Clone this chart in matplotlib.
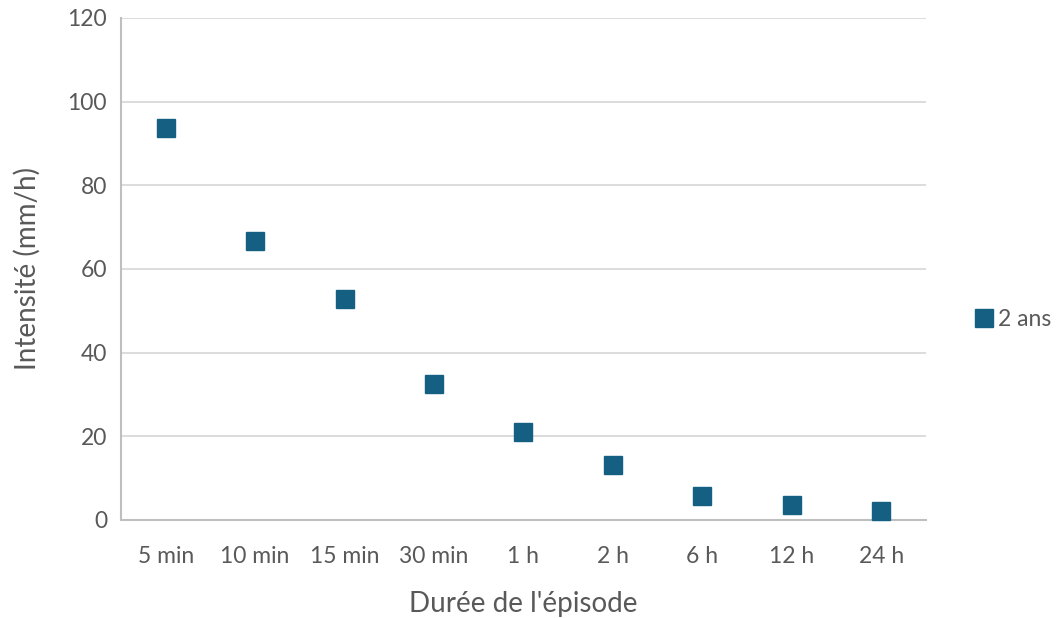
import matplotlib.pyplot as plt

# Intensité de pluie pour une période de retour de 2 ans
durees = ['5 min', '10 min', '15 min', '30 min', '1 h', '2 h', '6 h', '12 h', '24 h']
intensite_2ans = [93.7, 66.7, 52.8, 32.5, 21.0, 13.1, 5.7, 3.6, 2.2]

plt.rcParams['font.family'] = ['Lato', 'DejaVu Sans']
gris_texte = '#595959'
bleu = '#156082'

fig = plt.figure(figsize=(10.64, 6.18), dpi=100)
ax = fig.add_axes([0.1137, 0.1586, 0.7566, 0.8123])

x = range(len(durees))
ax.plot(x, intensite_2ans, linestyle='none', marker='s', markersize=12.5,
        color=bleu, markeredgecolor=bleu, label='2 ans', clip_on=False, zorder=3)

ax.set_xlim(-0.5, len(durees) - 0.5)
ax.set_ylim(0, 120)
ax.set_yticks(range(0, 121, 20))
ax.set_xticks(list(x))
ax.set_xticklabels(durees)

ax.grid(axis='y', color='#D9D9D9', linewidth=1.3)
ax.set_axisbelow(True)
for side in ['top', 'right']:
    ax.spines[side].set_visible(False)
ax.spines['left'].set_color('#BFBFBF')
ax.spines['bottom'].set_color('#BFBFBF')
ax.spines['left'].set_linewidth(1.5)
ax.spines['bottom'].set_linewidth(1.5)
ax.tick_params(length=0, labelsize=16.5, colors=gris_texte)
ax.tick_params(axis='x', pad=19)
ax.tick_params(axis='y', pad=10)

ax.set_xlabel("Durée de l'épisode", fontsize=20, color=gris_texte, labelpad=17)
ax.set_ylabel('Intensité (mm/h)', fontsize=20, color=gris_texte, labelpad=19)

fig.legend(loc='center left', bbox_to_anchor=(0.896, 0.483), frameon=False,
           fontsize=16.5, handletextpad=0.15, handlelength=0.9, labelcolor=gris_texte)

fig.savefig('out.png', dpi=100)
